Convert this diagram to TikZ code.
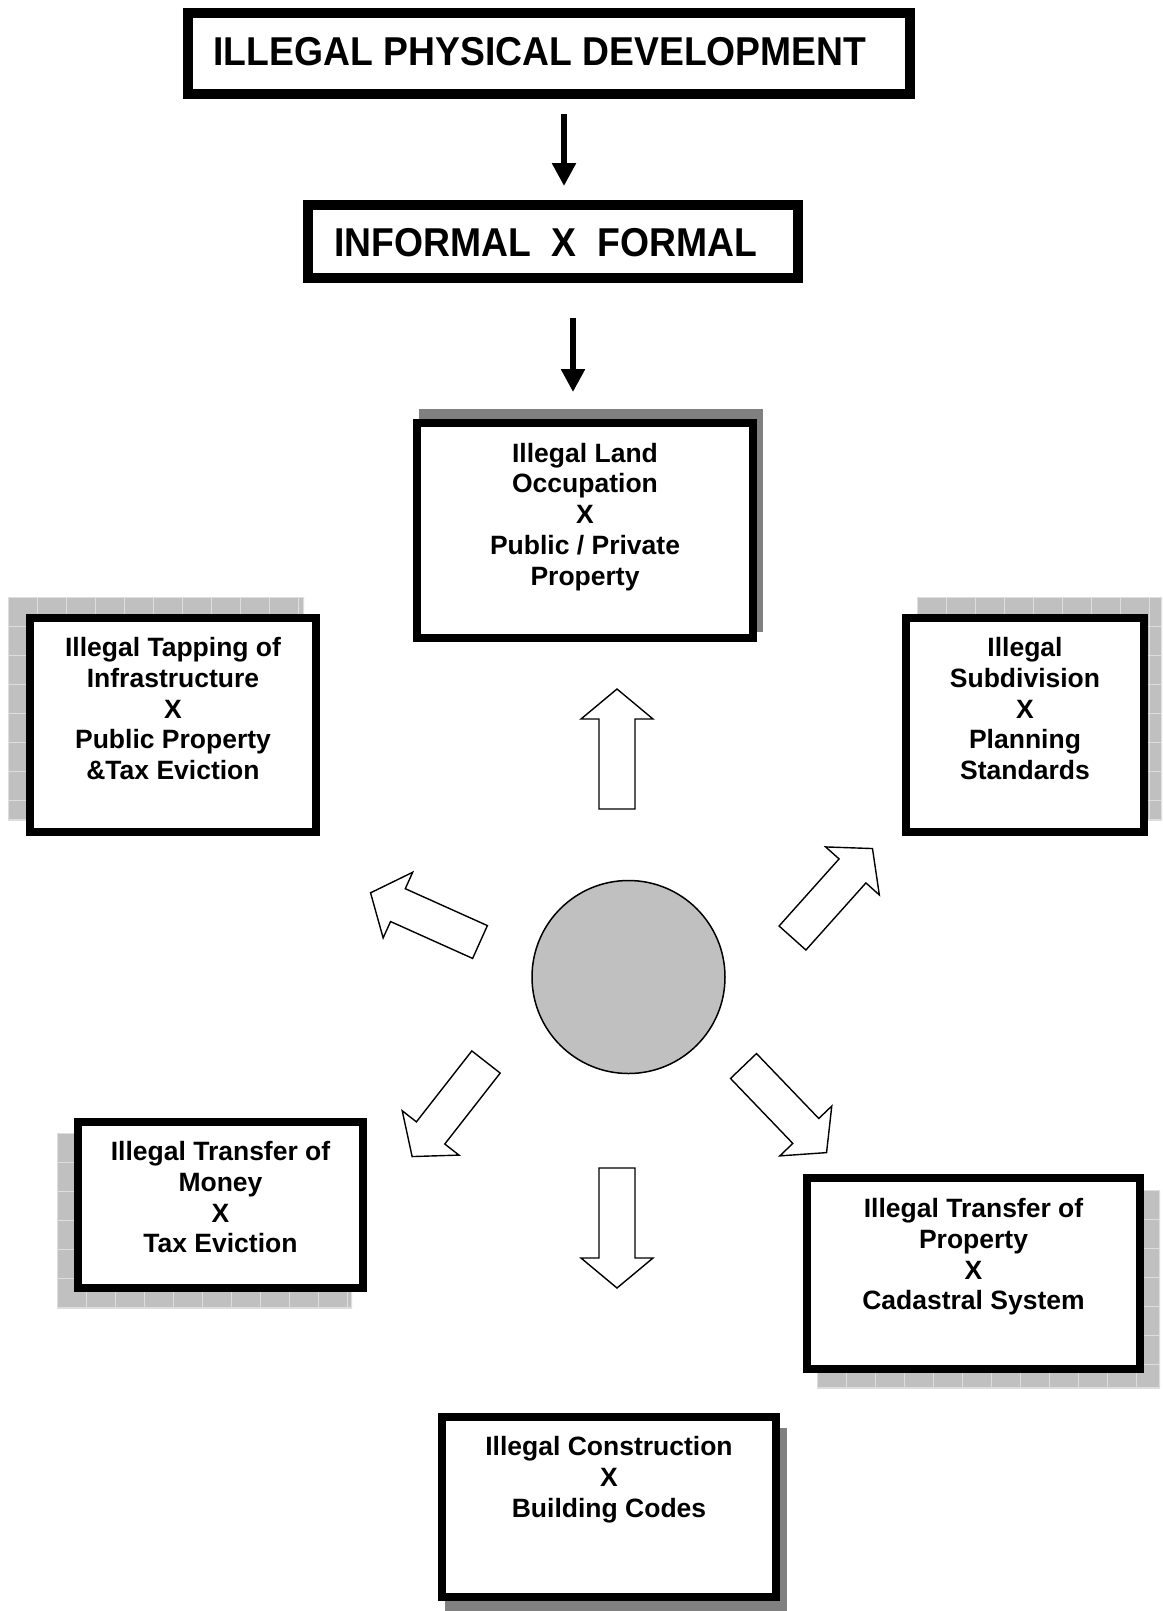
\documentclass[tikz,border=0pt]{standalone}
\usepackage{fontspec}
\setmainfont{Liberation Sans}
\usetikzlibrary{arrows.meta}
\definecolor{shgray}{RGB}{128,128,128}
\definecolor{gridfill}{RGB}{192,192,192}
\definecolor{gridline}{RGB}{222,222,222}
\definecolor{discgray}{RGB}{192,192,192}
\tikzset{
  bigbox/.style={draw, line width=10pt, fill=white, inner sep=0pt},
  smallbox/.style={draw, line width=8pt, fill=white, inner sep=0pt},
  boxtext/.style={anchor=north, align=center, inner sep=0pt, font=\fontsize{26.5}{30.8}\selectfont\bfseries},
  titletext/.style={inner sep=0pt, font=\fontsize{37.3}{40}\selectfont\bfseries},
  flow/.style={line width=5.5pt, -{Triangle[length=23pt,width=23pt]}},
  blockarrow/.style={draw, line width=1.4pt, fill=white, line join=miter},
  solidshadow/.style={fill=shgray},
}
\newcommand\gshadow[4]{%
  \begin{scope}
    \clip (#1,-#2) rectangle (#3,-#4);
    \fill[gridfill] (#1,-#2) rectangle (#3,-#4);
    \begin{scope}[shift={(#1,-#2)}]
      \draw[gridline, line width=0.9pt, step=29pt] (0,0) grid ({#3-#1},{#2-#4});
    \end{scope}
    \draw[gridline, line width=2pt] (#1,-#2) rectangle (#3,-#4);
  \end{scope}}
\newcommand\blockarr[3]{%
  \draw[blockarrow, shift={(#1,-#2)}, rotate=#3]
    (0,-18) -- (90,-18) -- (90,-36) -- (120,0) -- (90,36) -- (90,18) -- (0,18) -- cycle;}
\begin{document}
\begin{tikzpicture}[x=1pt,y=1pt]
\useasboundingbox[fill=white] (0,0) rectangle (1162,-1611);

% title boxes
\node[bigbox, minimum width=722pt, minimum height=81pt] (title) at (549,-53.5) {};
\node[titletext] (titletxt) at (540,-51.4) {\scalebox{1}[1.08]{ILLEGAL PHYSICAL DEVELOPMENT}};
\node[bigbox, minimum width=490pt, minimum height=73pt] (inf) at (553,-241.5) {};
\node[titletext] (inftxt) at (545.6,-242.5) {\scalebox{1}[1.08]{INFORMAL~~X~~FORMAL}};

\coordinate (a1s) at (564,-114);
\coordinate (a1e) at (564,-186);
\coordinate (a2s) at (573,-318);
\coordinate (a2e) at (573,-392);
\draw[flow] (a1s) -- (a1e);
\draw[flow] (a2s) -- (a2e);

% shadows
\fill[solidshadow] (419,-409) rectangle (763,-632);
\gshadow{8}{597}{304}{820}
\gshadow{917}{597}{1162}{820}
\gshadow{57}{1133}{352}{1308}
\gshadow{817}{1190}{1160}{1388}
\fill[solidshadow] (445,-1428) rectangle (787,-1616);

% boxes
\node[smallbox, minimum width=336pt, minimum height=215pt] (land) at (585,-530.5) {};
\node[boxtext] (landtxt) at (585,-442.7) {Illegal Land\\Occupation\\X\\Public / Private\\Property};

\node[smallbox, minimum width=286pt, minimum height=214pt] (tap) at (173,-725) {};
\node[boxtext] (taptxt) at (173,-637) {Illegal Tapping of\\Infrastructure\\X\\Public Property\\\&Tax Eviction};

\node[smallbox, minimum width=238pt, minimum height=214pt] (sub) at (1025,-725) {};
\node[boxtext] (subtxt) at (1025,-637) {Illegal\\Subdivision\\X\\Planning\\Standards};

\node[smallbox, minimum width=285pt, minimum height=166pt] (money) at (220.5,-1205) {};
\node[boxtext] (moneytxt) at (220.5,-1141) {Illegal Transfer of\\Money\\X\\Tax Eviction};

\node[smallbox, minimum width=333pt, minimum height=191pt] (prop) at (973.5,-1273.5) {};
\node[boxtext] (proptxt) at (973.5,-1198) {Illegal Transfer of\\Property\\X\\Cadastral System};

\node[smallbox, minimum width=334pt, minimum height=180pt] (cons) at (609,-1507) {};
\node[boxtext] (constxt) at (609,-1436) {Illegal Construction\\X\\Building Codes};

% centre disc
\node[draw, circle, line width=1.5pt, fill=discgray, minimum size=193pt, inner sep=0pt] (hub) at (628.5,-977) {};

% block arrows
\blockarr{617}{809}{90}
\blockarr{480}{942}{155.8}
\blockarr{792.5}{938}{48.2}
\blockarr{486}{1062}{232}
\blockarr{743.5}{1066}{-46.2}
\blockarr{617}{1168}{270}
\end{tikzpicture}
\end{document}
